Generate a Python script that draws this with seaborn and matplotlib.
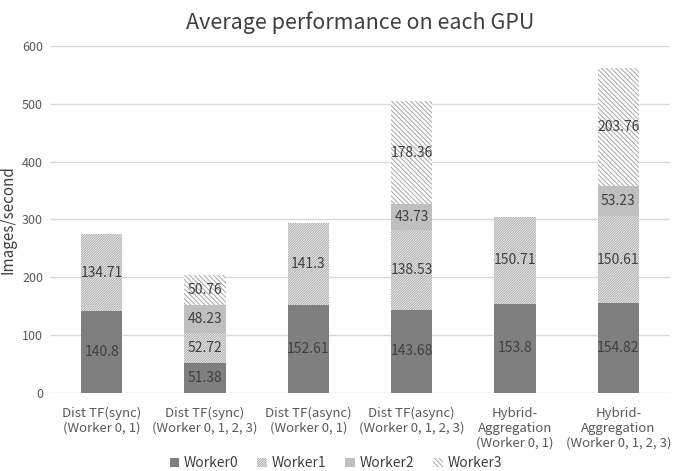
import numpy as np
import pandas as pd
import matplotlib
matplotlib.use("Agg")
import matplotlib.pyplot as plt
import matplotlib.patches as mpatches
import seaborn as sns

categories = ["Dist TF(sync)\n(Worker 0, 1)", "Dist TF(sync)\n(Worker 0, 1, 2, 3)",
              "Dist TF(async)\n(Worker 0, 1)", "Dist TF(async)\n(Worker 0, 1, 2, 3)",
              "Hybrid-\nAggregation\n(Worker 0, 1)", "Hybrid-\nAggregation\n(Worker 0, 1, 2, 3)"]
worker0 = [140.8, 51.38, 152.61, 143.68, 153.8, 154.82]
worker1 = [134.71, 52.72, 141.3, 138.53, 150.71, 150.61]
worker2 = [0, 48.23, 0, 43.73, 0, 53.23]
worker3 = [0, 50.76, 0, 178.36, 0, 203.76]
series_names = ["Worker0", "Worker1", "Worker2", "Worker3"]

sns.set_style("white")
plt.rcParams['font.family'] = ['Noto Sans CJK KR', 'DejaVu Sans']
plt.rcParams['hatch.linewidth'] = 0.7

fig = plt.figure(figsize=(6.85, 4.71), dpi=100)
ax = fig.add_axes([0.073, 0.166, 0.905, 0.736])

series = [worker0, worker1, worker2, worker3]
styles = [
    dict(color="#7f7f7f", hatch=None, edge="#7f7f7f"),
    dict(color="#ffffff", hatch="/" * 14, edge="#a6a6a6"),
    dict(color="#bfbfbf", hatch=None, edge="#bfbfbf"),
    dict(color="#ffffff", hatch="\\" * 7, edge="#a6a6a6"),
]
cums = np.cumsum(np.array(series, dtype=float), axis=0)

# draw from top cumulative down so lower segments overlay
for i in range(3, -1, -1):
    st = styles[i]
    df = pd.DataFrame({"cat": categories, "val": cums[i]})
    sns.barplot(data=df, x="cat", y="val", color=st["color"], saturation=1,
                width=0.4, hatch=st["hatch"], edgecolor=st["edge"], linewidth=0,
                ax=ax, zorder=2)

# value labels
for i, s in enumerate(series):
    for j, v in enumerate(s):
        if v > 0:
            y = cums[i][j] - v / 2
            ax.text(j, y, f"{v:g}", ha="center", va="center", fontsize=10,
                    color="#404040", zorder=5)

ax.set_ylim(0, 600)
ax.set_xlim(-0.5, 5.5)
ax.set_yticks(range(0, 601, 100))
ax.yaxis.grid(True, color="#d9d9d9", linewidth=1, zorder=0)
ax.set_axisbelow(True)
for sp in ax.spines.values():
    sp.set_visible(False)
ax.tick_params(axis="both", length=0, labelsize=9.5, colors="#595959")
ax.tick_params(axis="y", pad=5, labelsize=9)
ax.tick_params(axis="x", pad=10)
ax.set_xlabel("")
ax.set_ylabel("Images/second", fontsize=11, color="#404040", labelpad=4)
ax.set_title("Average performance on each GPU", fontsize=15.5, color="#404040", pad=12)

handles = []
for name, st in zip(series_names, styles):
    handles.append(mpatches.Patch(facecolor=st["color"], hatch=st["hatch"],
                                  edgecolor=st["edge"], linewidth=0, label=name))
fig.legend(handles=handles, loc="lower center", ncol=4, frameon=False,
           bbox_to_anchor=(0.49, -0.025), fontsize=10, handlelength=0.7,
           handleheight=0.7, columnspacing=1.4, handletextpad=0.3,
           labelcolor="#404040")

fig.savefig("out.png", dpi=100)
